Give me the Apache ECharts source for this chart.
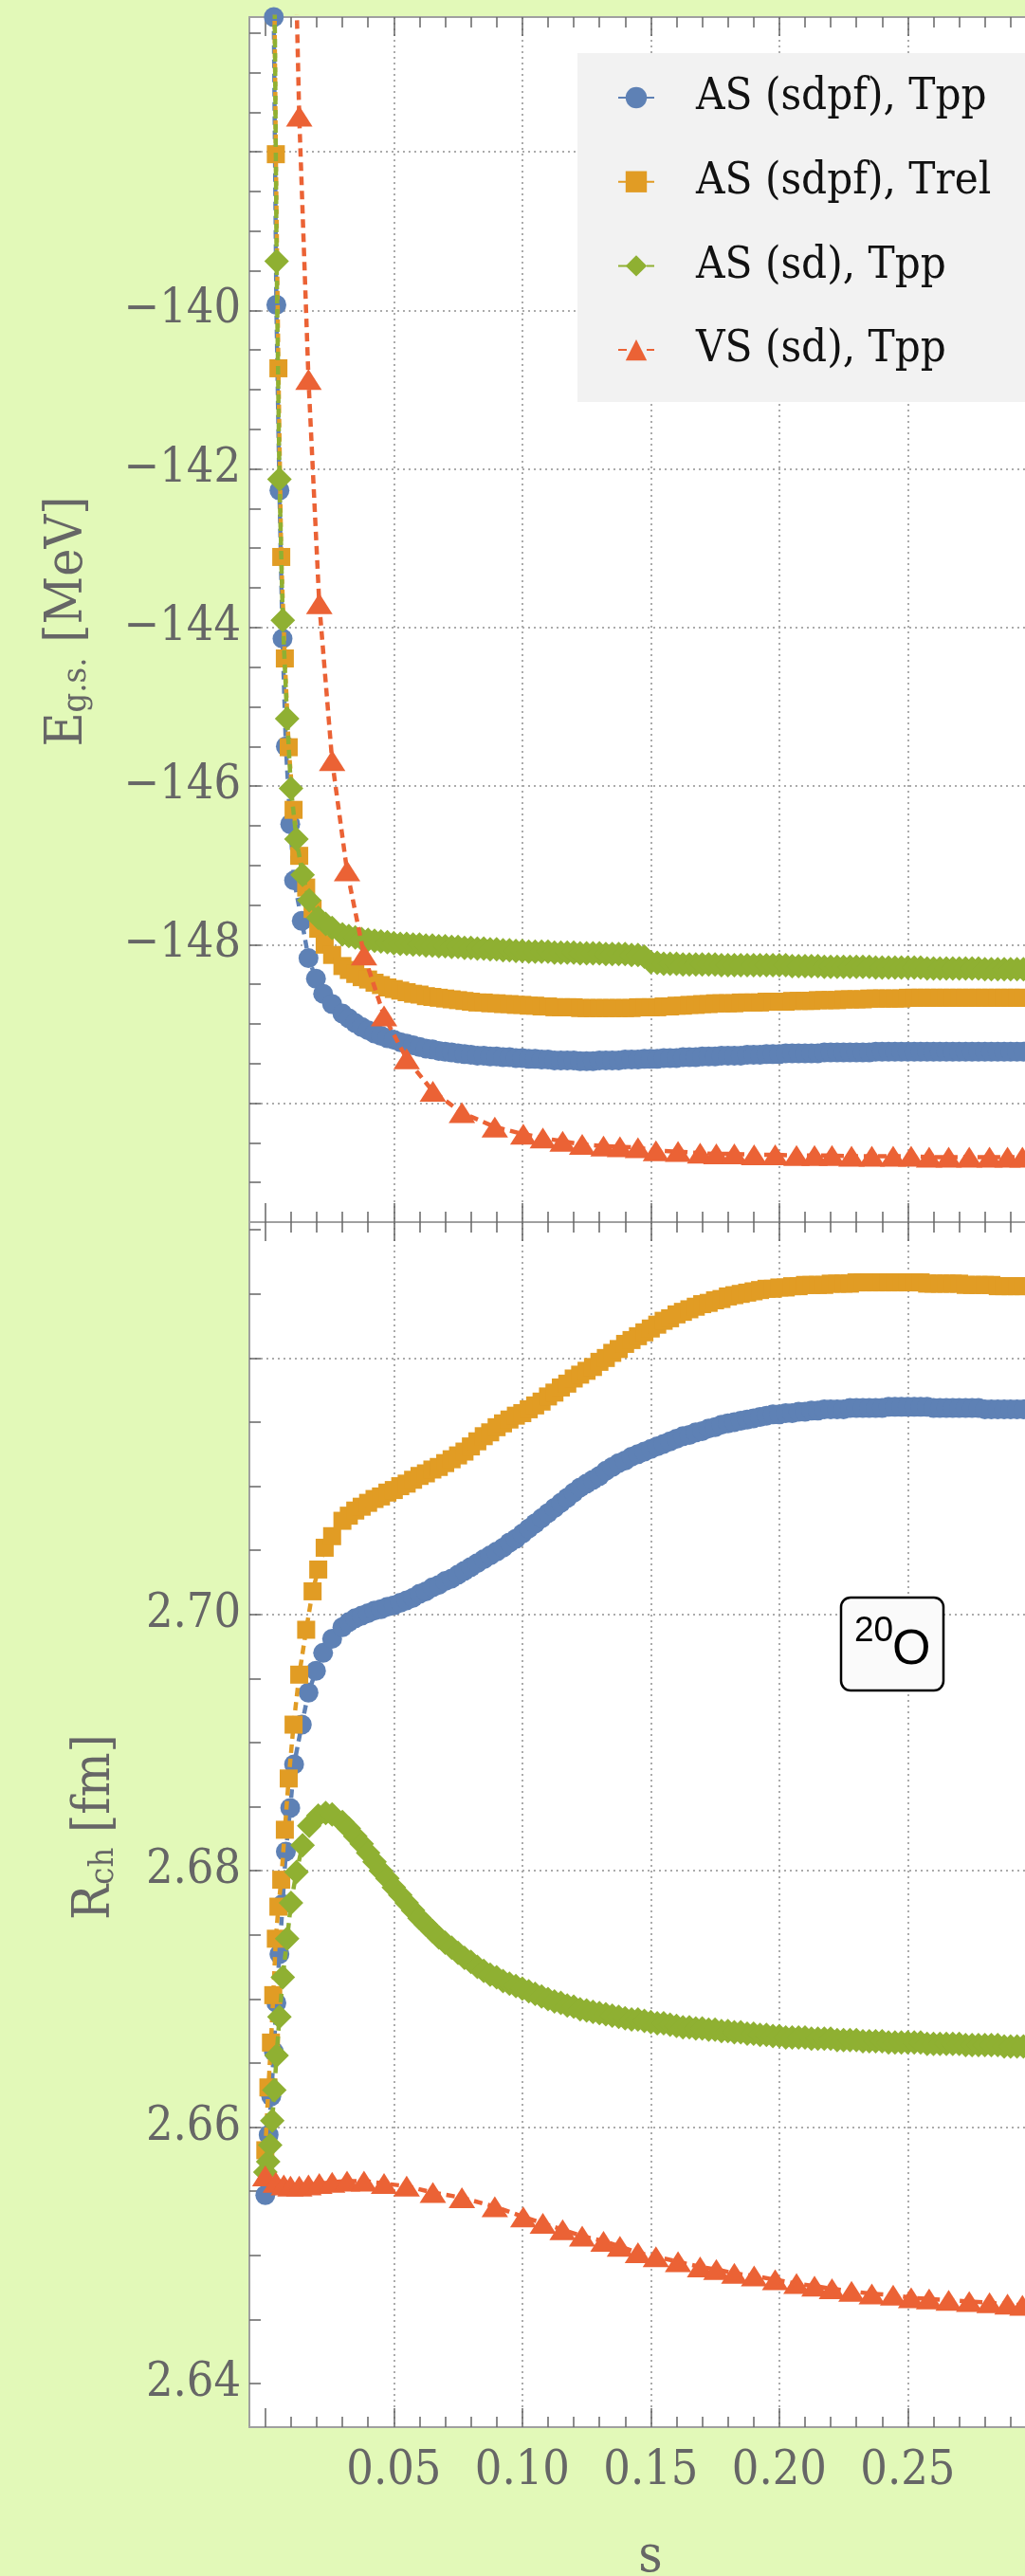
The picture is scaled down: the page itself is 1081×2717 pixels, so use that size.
<!DOCTYPE html>
<html>
<head>
<meta charset="utf-8">
<script src="https://cdn.jsdelivr.net/npm/echarts@6/dist/echarts.min.js"></script>
<style>
  html, body { margin: 0; padding: 0; background: #e2f9b8; }
  #chart { width: 1081px; height: 2717px; }
</style>
</head>
<body>
<div id="chart"></div>
<script>
// series names
const names = ['AS (sdpf), Tpp', 'AS (sdpf), Trel', 'AS (sd), Tpp', 'VS (sd), Tpp']

// flow parameter s for the dense part of the AS runs
const sBand = [
  0.030, 0.0325, 0.035, 0.0375, 0.040, 0.0425, 0.045, 0.0475, 0.050, 0.0525,
  0.055, 0.0575, 0.060, 0.0625, 0.065, 0.0675, 0.070, 0.0725, 0.075, 0.0775,
  0.080, 0.0825, 0.085, 0.0875, 0.090, 0.0925, 0.095, 0.0975, 0.100, 0.1025,
  0.105, 0.1075, 0.110, 0.1125, 0.115, 0.1175, 0.120, 0.1225, 0.125, 0.1275,
  0.130, 0.1325, 0.135, 0.1375, 0.140, 0.1425, 0.145, 0.1475, 0.150, 0.1525,
  0.155, 0.1575, 0.160, 0.1625, 0.165, 0.1675, 0.170, 0.1725, 0.175, 0.1775,
  0.180, 0.1825, 0.185, 0.1875, 0.190, 0.1925, 0.195, 0.1975, 0.200, 0.2025,
  0.205, 0.2075, 0.210, 0.2125, 0.215, 0.2175, 0.220, 0.2225, 0.225, 0.2275,
  0.230, 0.2325, 0.235, 0.2375, 0.240, 0.2425, 0.245, 0.2475, 0.250, 0.2525,
  0.255, 0.2575, 0.260, 0.2625, 0.265, 0.2675, 0.270, 0.2725, 0.275, 0.2775,
  0.280, 0.2825, 0.285, 0.2875, 0.290, 0.2925, 0.295
]

// AS (sdpf), Tpp
const sEarlyBlue = [0, 0.0013, 0.0023, 0.0033, 0.0043, 0.0055, 0.0067, 0.008, 0.0097, 0.0112, 0.0142, 0.0168, 0.0197, 0.0225, 0.026]
const eEarlyBlue = [-118, -126, -132, -136.3, -139.93, -142.27, -144.14, -145.5, -146.48, -147.19, -147.7, -148.17, -148.43, -148.62, -148.75]
const rEarlyBlue = [2.6547, 2.6594, 2.6624, 2.6659, 2.6697, 2.6735, 2.6774, 2.6815, 2.6849, 2.6883, 2.6914, 2.6939, 2.6956, 2.697, 2.6981]
const eBandBlue = [
  -148.87, -148.93, -148.99, -149.04, -149.08, -149.12, -149.15, -149.18, -149.20, -149.23,
  -149.25, -149.27, -149.29, -149.31, -149.32, -149.34, -149.35, -149.36, -149.37, -149.38,
  -149.39, -149.40, -149.40, -149.41, -149.41, -149.42, -149.42, -149.43, -149.43, -149.44,
  -149.44, -149.45, -149.45, -149.46, -149.46, -149.46, -149.46, -149.47, -149.47, -149.47,
  -149.46, -149.46, -149.46, -149.46, -149.45, -149.45, -149.45, -149.44, -149.44, -149.44,
  -149.43, -149.43, -149.43, -149.42, -149.42, -149.42, -149.41, -149.41, -149.41, -149.40,
  -149.40, -149.40, -149.40, -149.39, -149.39, -149.39, -149.38, -149.38, -149.38, -149.37,
  -149.37, -149.37, -149.37, -149.37, -149.37, -149.36, -149.36, -149.36, -149.36, -149.36,
  -149.36, -149.36, -149.36, -149.35, -149.35, -149.35, -149.35, -149.35, -149.35, -149.35,
  -149.35, -149.35, -149.35, -149.35, -149.35, -149.35, -149.35, -149.35, -149.35, -149.35,
  -149.35, -149.35, -149.35, -149.35, -149.35, -149.35, -149.35
]
const rBandBlue = [
  2.6990, 2.6994, 2.6997, 2.6999, 2.7001, 2.7003, 2.7004, 2.7006, 2.7007, 2.7009,
  2.7011, 2.7013, 2.7016, 2.7018, 2.7021, 2.7023, 2.7026, 2.7028, 2.7031, 2.7034,
  2.7037, 2.7040, 2.7043, 2.7046, 2.7049, 2.7052, 2.7056, 2.7059, 2.7063, 2.7067,
  2.7071, 2.7075, 2.7079, 2.7083, 2.7087, 2.7091, 2.7095, 2.7099, 2.7102, 2.7105,
  2.7108, 2.7112, 2.7115, 2.7118, 2.7120, 2.7123, 2.7125, 2.7127, 2.7129, 2.7131,
  2.7133, 2.7135, 2.7137, 2.7139, 2.7140, 2.7142, 2.7143, 2.7145, 2.7146, 2.7148,
  2.7149, 2.7150, 2.7151, 2.7152, 2.7153, 2.7154, 2.7155, 2.7156, 2.7156, 2.7157,
  2.7157, 2.7158, 2.7158, 2.7159, 2.7159, 2.7160, 2.7160, 2.7160, 2.7160, 2.7161,
  2.7161, 2.7161, 2.7161, 2.7161, 2.7161, 2.7162, 2.7162, 2.7162, 2.7162, 2.7162,
  2.7162, 2.7162, 2.7161, 2.7161, 2.7161, 2.7161, 2.7161, 2.7161, 2.7161, 2.7161,
  2.7160, 2.7160, 2.7160, 2.7160, 2.7160, 2.7160, 2.7160
]

// AS (sdpf), Trel
const sEarlyOrange = [0, 0.0012, 0.0022, 0.0031, 0.0041, 0.0051, 0.0062, 0.0076, 0.0091, 0.011, 0.0132, 0.0159, 0.0184, 0.0206, 0.0231, 0.026]
const eEarlyOrange = [-115, -124, -130, -134.5, -138.03, -140.73, -143.11, -144.39, -145.51, -146.3, -146.88, -147.28, -147.55, -147.8, -148.0, -148.13]
const rEarlyOrange = [2.6582, 2.6631, 2.6666, 2.6703, 2.6747, 2.6772, 2.6793, 2.6832, 2.6872, 2.6914, 2.6953, 2.6988, 2.7018, 2.7035, 2.7052, 2.7061]
const eBandOrange = [
  -148.27, -148.32, -148.37, -148.41, -148.44, -148.48, -148.51, -148.54, -148.56, -148.58,
  -148.60, -148.62, -148.63, -148.65, -148.66, -148.67, -148.68, -148.69, -148.70, -148.71,
  -148.72, -148.73, -148.73, -148.74, -148.74, -148.75, -148.75, -148.76, -148.76, -148.77,
  -148.77, -148.78, -148.78, -148.79, -148.79, -148.79, -148.79, -148.80, -148.80, -148.80,
  -148.80, -148.80, -148.80, -148.80, -148.80, -148.80, -148.79, -148.79, -148.79, -148.79,
  -148.78, -148.78, -148.77, -148.77, -148.76, -148.76, -148.75, -148.75, -148.74, -148.74,
  -148.74, -148.74, -148.73, -148.73, -148.73, -148.73, -148.72, -148.72, -148.72, -148.72,
  -148.71, -148.71, -148.71, -148.71, -148.70, -148.70, -148.70, -148.70, -148.69, -148.69,
  -148.69, -148.69, -148.68, -148.68, -148.68, -148.68, -148.68, -148.68, -148.67, -148.67,
  -148.67, -148.67, -148.67, -148.67, -148.67, -148.67, -148.67, -148.67, -148.67, -148.67,
  -148.67, -148.67, -148.67, -148.67, -148.67, -148.67, -148.67
]
const rBandOrange = [
  2.7073, 2.7077, 2.7081, 2.7084, 2.7087, 2.7090, 2.7092, 2.7095, 2.7097, 2.7100,
  2.7102, 2.7105, 2.7108, 2.7110, 2.7113, 2.7115, 2.7118, 2.7121, 2.7124, 2.7127,
  2.7131, 2.7135, 2.7139, 2.7142, 2.7146, 2.7149, 2.7152, 2.7155, 2.7157, 2.7160,
  2.7163, 2.7166, 2.7170, 2.7173, 2.7177, 2.7180, 2.7184, 2.7187, 2.7190, 2.7193,
  2.7197, 2.7200, 2.7204, 2.7207, 2.7211, 2.7214, 2.7217, 2.7220, 2.7223, 2.7226,
  2.7229, 2.7231, 2.7234, 2.7236, 2.7238, 2.7240, 2.7242, 2.7243, 2.7245, 2.7246,
  2.7248, 2.7249, 2.7250, 2.7251, 2.7252, 2.7253, 2.7254, 2.7254, 2.7255, 2.7255,
  2.7256, 2.7256, 2.7257, 2.7257, 2.7257, 2.7257, 2.7258, 2.7258, 2.7258, 2.7258,
  2.7259, 2.7259, 2.7259, 2.7259, 2.7259, 2.7259, 2.7259, 2.7259, 2.7259, 2.7259,
  2.7259, 2.7258, 2.7258, 2.7258, 2.7258, 2.7258, 2.7258, 2.7257, 2.7257, 2.7257,
  2.7257, 2.7257, 2.7256, 2.7256, 2.7256, 2.7256, 2.7256
]

// AS (sd), Tpp
const sEarlyGreen = [0, 0.0011, 0.0019, 0.0027, 0.0035, 0.0044, 0.0055, 0.0068, 0.0085, 0.01, 0.0121, 0.0145, 0.0171, 0.0206, 0.0235, 0.026]
const eEarlyGreen = [-112, -120, -126, -131, -135.5, -139.38, -142.13, -143.91, -145.15, -146.03, -146.67, -147.12, -147.44, -147.66, -147.74, -147.79]
const rEarlyGreen = [2.6565, 2.6573, 2.6586, 2.6605, 2.6629, 2.6656, 2.6686, 2.6717, 2.6747, 2.6775, 2.6799, 2.682, 2.6835, 2.6843, 2.6845, 2.6844]
const eBandGreen = [
  -147.87, -147.89, -147.91, -147.93, -147.94, -147.95, -147.96, -147.97, -147.98, -147.99,
  -147.99, -148.00, -148.00, -148.01, -148.01, -148.02, -148.02, -148.03, -148.03, -148.04,
  -148.04, -148.05, -148.05, -148.06, -148.06, -148.07, -148.07, -148.08, -148.08, -148.09,
  -148.09, -148.09, -148.09, -148.10, -148.10, -148.10, -148.10, -148.11, -148.11, -148.11,
  -148.11, -148.12, -148.12, -148.12, -148.12, -148.13, -148.13, -148.15, -148.22, -148.23,
  -148.24, -148.24, -148.24, -148.25, -148.25, -148.25, -148.25, -148.25, -148.25, -148.26,
  -148.26, -148.26, -148.26, -148.26, -148.26, -148.26, -148.26, -148.26, -148.26, -148.26,
  -148.27, -148.27, -148.27, -148.27, -148.27, -148.28, -148.28, -148.28, -148.28, -148.28,
  -148.28, -148.28, -148.28, -148.29, -148.29, -148.29, -148.29, -148.29, -148.29, -148.29,
  -148.29, -148.30, -148.30, -148.30, -148.30, -148.30, -148.30, -148.30, -148.30, -148.30,
  -148.31, -148.31, -148.31, -148.31, -148.31, -148.31, -148.31
]
const rBandGreen = [
  2.6838, 2.6833, 2.6827, 2.6821, 2.6814, 2.6807, 2.6800, 2.6794, 2.6787, 2.6781,
  2.6775, 2.6769, 2.6763, 2.6758, 2.6753, 2.6748, 2.6744, 2.6740, 2.6736, 2.6732,
  2.6729, 2.6725, 2.6722, 2.6719, 2.6717, 2.6714, 2.6712, 2.6710, 2.6708, 2.6706,
  2.6704, 2.6702, 2.6700, 2.6698, 2.6697, 2.6695, 2.6694, 2.6692, 2.6691, 2.6690,
  2.6689, 2.6688, 2.6687, 2.6686, 2.6685, 2.6684, 2.6684, 2.6683, 2.6682, 2.6681,
  2.6681, 2.6680, 2.6679, 2.6678, 2.6678, 2.6677, 2.6677, 2.6676, 2.6676, 2.6675,
  2.6675, 2.6674, 2.6674, 2.6673, 2.6673, 2.6672, 2.6672, 2.6671, 2.6671, 2.6670,
  2.6670, 2.6670, 2.6670, 2.6669, 2.6669, 2.6669, 2.6669, 2.6668, 2.6668, 2.6668,
  2.6668, 2.6667, 2.6667, 2.6667, 2.6667, 2.6666, 2.6666, 2.6666, 2.6666, 2.6666,
  2.6666, 2.6665, 2.6665, 2.6665, 2.6665, 2.6665, 2.6665, 2.6664, 2.6664, 2.6664,
  2.6664, 2.6664, 2.6664, 2.6663, 2.6663, 2.6663, 2.6663
]

// VS (sd), Tpp
const sRed = [
  0, 0.0041, 0.0072, 0.0098, 0.0132, 0.0168, 0.021, 0.026, 0.0318, 0.0384,
  0.0462, 0.055, 0.0652, 0.0765, 0.0893, 0.1004, 0.108, 0.1157, 0.1233, 0.1316,
  0.138, 0.145, 0.152, 0.1606, 0.1692, 0.1755, 0.1825, 0.1902, 0.1984, 0.2067,
  0.2137, 0.2205, 0.2281, 0.236, 0.2443, 0.2513, 0.2583, 0.2659, 0.2739, 0.2818,
  0.2888, 0.2946
]
const eRed = [
  -108, -118, -126, -132.8, -137.55, -140.87, -143.7, -145.68, -147.07, -148.13,
  -148.9, -149.44, -149.85, -150.12, -150.30, -150.39, -150.44, -150.48, -150.52, -150.54,
  -150.55, -150.56, -150.60, -150.61, -150.63, -150.64, -150.64, -150.65, -150.65, -150.66,
  -150.66, -150.66, -150.67, -150.67, -150.67, -150.67, -150.68, -150.68, -150.68, -150.68,
  -150.68, -150.68
]
const rRed = [
  2.6562, 2.6557, 2.6555, 2.6554, 2.6554, 2.6555, 2.6556, 2.6557, 2.6558, 2.6558,
  2.6556, 2.6554, 2.6549, 2.6545, 2.6538, 2.6530, 2.6525, 2.6520, 2.6515, 2.6511,
  2.6507, 2.6502, 2.6499, 2.6495, 2.6491, 2.6489, 2.6486, 2.6484, 2.6481, 2.6478,
  2.6476, 2.6474, 2.6472, 2.6470, 2.6469, 2.6467, 2.6466, 2.6465, 2.6464, 2.6463,
  2.6462, 2.6461
]

// ticks, labels and grid lines
const sMajor = [0, 0.05, 0.10, 0.15, 0.20, 0.25]
const sMinor = [0.01, 0.02, 0.03, 0.04, 0.06, 0.07, 0.08, 0.09, 0.11, 0.12, 0.13, 0.14,
  0.16, 0.17, 0.18, 0.19, 0.21, 0.22, 0.23, 0.24, 0.26, 0.27, 0.28, 0.29]
const sLabels = [0.05, 0.10, 0.15, 0.20, 0.25]
const sGrid = [0.05, 0.10, 0.15, 0.20, 0.25]
const eTicks = [-151, -150.5, -150, -149.5, -149, -148.5, -148, -147.5, -147, -146.5, -146, -145.5,
  -145, -144.5, -144, -143.5, -143, -142.5, -142, -141.5, -141, -140.5, -140, -139.5, -139,
  -138.5, -138, -137.5, -137, -136.5]
const eLabels = [-148, -146, -144, -142, -140]
const eGrid = [-150, -148, -146, -144, -142, -140, -138]
const rTicks = [2.640, 2.645, 2.650, 2.655, 2.660, 2.665, 2.670, 2.675, 2.680, 2.685, 2.690,
  2.695, 2.700, 2.705, 2.710, 2.715, 2.720, 2.725, 2.730]
const rLabels = [2.64, 2.66, 2.68, 2.70]
const rGrid = [2.66, 2.68, 2.70, 2.72]

const colors = ['#5e81b5', '#e19c24', '#8fb032', '#eb6235']
const symbols = ['circle', 'rect', 'diamond', 'triangle']
const symbolSizes = [21, 19, 26, [28, 22]]

const serif = "'DejaVu Serif Condensed', 'DejaVu Serif', serif"
const X_MIN = -0.0062
const X_MAX = 0.2956
const frameLine = { show: true, onZero: false, lineStyle: { color: '#a0a0a0', width: 2 } }
const tickLine = { color: '#666', width: 1.5 }
const gridLine = { color: '#ababab', width: 2, type: [2, 4] }

function pairs(xs, ys) {
  return xs.map((x, i) => [x, ys[i]])
}

function xPart(gridIndex, position, ticks, len, showLine) {
  return {
    type: 'value', gridIndex, position, min: X_MIN, max: X_MAX,
    axisLine: showLine ? frameLine : { show: false },
    axisTick: { show: true, inside: true, length: len, customValues: ticks, lineStyle: tickLine },
    axisLabel: { show: false },
    splitLine: { show: false }
  }
}

function xGridLines(gridIndex) {
  return {
    type: 'value', gridIndex, position: 'bottom', min: X_MIN, max: X_MAX,
    axisLine: { show: false },
    axisTick: { show: false, customValues: sGrid },
    axisLabel: { show: false },
    splitLine: { show: true, lineStyle: gridLine }
  }
}

function yMain(gridIndex, min, max, ticks, labels, fmt) {
  return {
    type: 'value', gridIndex, min, max, position: 'left',
    axisLine: frameLine,
    axisTick: { show: true, inside: true, length: 12, customValues: ticks, lineStyle: tickLine },
    axisLabel: {
      show: true, customValues: labels, formatter: fmt, margin: 9,
      fontFamily: serif, fontSize: 50, color: '#666'
    },
    splitLine: { show: false }
  }
}

function yGridLines(gridIndex, min, max, vals) {
  return {
    type: 'value', gridIndex, min, max, position: 'left',
    axisLine: { show: false },
    axisTick: { show: false, customValues: vals },
    axisLabel: { show: false },
    splitLine: { show: true, lineStyle: gridLine }
  }
}

const xMainBottom = xPart(1, 'bottom', sMajor, 20, true)
xMainBottom.axisLabel = {
  show: true, customValues: sLabels, formatter: (v) => v.toFixed(2), margin: 22,
  fontFamily: serif, fontSize: 50, color: '#666'
}

const xAxes = [
  xPart(0, 'bottom', sMajor, 20, true),   // 0 top panel, data axis
  xPart(0, 'bottom', sMinor, 11, false),
  xPart(0, 'top', sMajor, 20, true),
  xPart(0, 'top', sMinor, 11, false),
  xGridLines(0),
  xMainBottom,                            // 5 bottom panel, data axis
  xPart(1, 'bottom', sMinor, 11, false),
  xPart(1, 'top', sMajor, 20, true),
  xPart(1, 'top', sMinor, 11, false),
  xGridLines(1)
]

const yAxes = [
  yMain(0, -151.5, -136.3, eTicks, eLabels, (v) => String(v).replace('-', '\u2212')),
  yGridLines(0, -151.5, -136.3, eGrid),
  yMain(1, 2.6366, 2.7306, rTicks, rLabels, (v) => v.toFixed(2)),
  yGridLines(1, 2.6366, 2.7306, rGrid)
]

const topData = [
  pairs(sEarlyBlue.concat(sBand), eEarlyBlue.concat(eBandBlue)),
  pairs(sEarlyOrange.concat(sBand), eEarlyOrange.concat(eBandOrange)),
  pairs(sEarlyGreen.concat(sBand), eEarlyGreen.concat(eBandGreen)),
  pairs(sRed, eRed)
]
const bottomData = [
  pairs(sEarlyBlue.concat(sBand), rEarlyBlue.concat(rBandBlue)),
  pairs(sEarlyOrange.concat(sBand), rEarlyOrange.concat(rBandOrange)),
  pairs(sEarlyGreen.concat(sBand), rEarlyGreen.concat(rBandGreen)),
  pairs(sRed, rRed)
]

function makeSeries(i, data, xi, yi) {
  return {
    type: 'line', name: names[i], data, xAxisIndex: xi, yAxisIndex: yi,
    symbol: symbols[i], symbolSize: symbolSizes[i], showSymbol: true, showAllSymbol: true,
    itemStyle: { color: colors[i] },
    lineStyle: { color: colors[i], width: 4.5, type: [9, 6] },
    emphasis: { disabled: true },
    clip: true, z: 2 + i
  }
}

const series = []
for (let i = 0; i < 4; i++) series.push(makeSeries(i, topData[i], 0, 0))
for (let i = 0; i < 4; i++) series.push(makeSeries(i, bottomData[i], 5, 2))

const labelRich = {
  m: { fontFamily: serif, fontSize: 55, lineHeight: 55, fill: '#666' },
  s: { fontFamily: serif, fontSize: 36, lineHeight: 18, verticalAlign: 'bottom', fill: '#666' }
}

const chart = echarts.init(document.getElementById('chart'))
chart.setOption({
  animation: false,
  backgroundColor: '#e2f9b8',
  grid: [
    { left: 263, top: 18, width: 818, height: 1271, show: true, backgroundColor: '#ffffff', borderWidth: 0 },
    { left: 263, top: 1289, width: 818, height: 1271, show: true, backgroundColor: '#ffffff', borderWidth: 0 }
  ],
  xAxis: xAxes,
  yAxis: yAxes,
  legend: {
    data: names, orient: 'vertical', left: 609, top: 56,
    backgroundColor: '#f2f2f2', padding: [17, 60, 25, 42],
    itemGap: 28.7, itemWidth: 38, itemHeight: 28, selectedMode: false,
    textStyle: { fontFamily: serif, fontSize: 47, color: '#111', lineHeight: 60, padding: [0, 0, 0, 39] }
  },
  graphic: [
    {
      type: 'text', x: 71.5, y: 655.5, rotation: Math.PI / 2,
      style: { text: '{m|E}{s|g.s.}{m| [MeV]}', rich: labelRich, align: 'center', verticalAlign: 'middle', fill: '#666' }
    },
    {
      type: 'text', x: 100.5, y: 1927, rotation: Math.PI / 2,
      style: { text: '{m|R}{s|ch}{m| [fm]}', rich: labelRich, align: 'center', verticalAlign: 'middle', fill: '#666' }
    },
    {
      type: 'text', x: 686, y: 2698,
      style: { text: 's', fontFamily: serif, fontSize: 55, fill: '#666', align: 'center', verticalAlign: 'middle' }
    },
    {
      type: 'rect', z: 100,
      shape: { x: 887, y: 1685, width: 108, height: 98, r: 10 },
      style: { fill: '#fafafa', stroke: '#000', lineWidth: 2.5 }
    },
    {
      type: 'text', z: 101, x: 901, y: 1720.5,
      style: { text: '20', fontFamily: 'Liberation Sans', fontSize: 37, fill: '#000', align: 'left', verticalAlign: 'middle' }
    },
    {
      type: 'text', z: 101, x: 941, y: 1740.5,
      style: { text: 'O', fontFamily: 'Liberation Sans', fontSize: 52, fill: '#000', align: 'left', verticalAlign: 'middle' }
    }
  ],
  series
})
</script>
</body>
</html>
